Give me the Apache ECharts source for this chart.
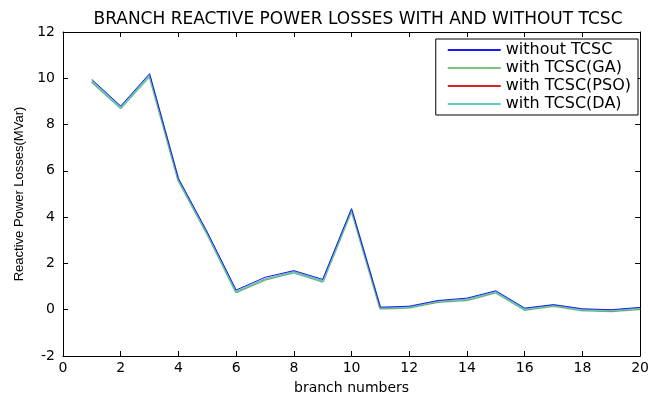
<!DOCTYPE html>
<html><head><meta charset="utf-8">
<script src="https://cdn.jsdelivr.net/npm/echarts@6/dist/echarts.min.js"></script>
<style>html,body{margin:0;padding:0;background:#fff}#c{width:652px;height:400px}</style>
</head><body><div id="c"></div>
<script>
const branches = [1,2,3,4,5,6,7,8,9,10,11,12,13,14,15,16,17,18,19,20];
const withoutTCSC = [9.95,8.8,10.2,5.67,3.35,0.85,1.4,1.69,1.31,4.37,0.11,0.15,0.4,0.5,0.82,0.07,0.22,0.04,0.0,0.1];
const withGA  = [9.85,8.72,10.1,5.6,3.28,0.76,1.3,1.62,1.22,4.3,0.05,0.1,0.34,0.42,0.75,0.0,0.17,-0.02,-0.06,0.03];
const withPSO = [9.85,8.72,10.1,5.6,3.28,0.76,1.3,1.62,1.22,4.3,0.05,0.1,0.34,0.42,0.75,0.0,0.17,-0.02,-0.06,0.03];
const withDA  = [9.87,8.73,10.11,5.61,3.29,0.77,1.31,1.63,1.23,4.31,0.06,0.11,0.35,0.43,0.76,0.01,0.18,-0.01,-0.05,0.04];
const xTicks = [0,2,4,6,8,10,12,14,16,18,20];
const yTicks = [-2,0,2,4,6,8,10,12];

const wide = 'DejaVu Sans, Verdana, sans-serif';
const narrow = 'Liberation Sans, Arial, sans-serif';
const pair = arr => branches.map((b,i)=>[b,arr[i]]);
const chart = echarts.init(document.getElementById('c'), null, {renderer:'canvas'});
const axisBase = () => ({
  axisLine:{show:true,onZero:false,lineStyle:{color:'#000',width:1}},
  axisTick:{show:true,inside:true,length:5,lineStyle:{color:'#000'}},
  splitLine:{show:false}
});
chart.setOption({
  animation:false,
  backgroundColor:'#fff',
  title:{text:'BRANCH REACTIVE POWER LOSSES WITH AND WITHOUT TCSC',left:353,textAlign:'center',top:6,
    textStyle:{fontFamily:wide,fontSize:17,fontWeight:'normal',color:'#000'}},
  grid:{left:63,right:7,top:32,bottom:37,show:false},
  legend:{
    orient:'vertical',right:14,top:39,
    backgroundColor:'#fff',borderColor:'#000',borderWidth:1,
    padding:[2,7,2,11],itemGap:0,itemWidth:53,itemHeight:14,
    itemStyle:{opacity:0},
    textStyle:{fontFamily:wide,fontSize:16,lineHeight:18,height:18,color:'#000'},
    data:['without TCSC','with TCSC(GA)','with TCSC(PSO)','with TCSC(DA)']
  },
  xAxis:[
    Object.assign(axisBase(),{type:'value',min:0,max:20,interval:2,position:'bottom',
      name:'branch numbers',nameLocation:'middle',nameGap:25,
      nameTextStyle:{fontFamily:wide,fontSize:14,color:'#000'},
      axisLabel:{fontFamily:wide,fontSize:14,color:'#000',margin:5}}),
    Object.assign(axisBase(),{type:'value',min:0,max:20,interval:2,position:'top',axisLabel:{show:false}})
  ],
  yAxis:[
    Object.assign(axisBase(),{type:'value',min:-2,max:12,interval:2,position:'left',
      name:'Reactive Power Losses(MVar)',nameLocation:'middle',nameGap:36,nameRotate:90,
      nameTextStyle:{fontFamily:narrow,fontSize:13,color:'#000'},
      axisLabel:{fontFamily:wide,fontSize:14,color:'#000',margin:8}}),
    Object.assign(axisBase(),{type:'value',min:-2,max:12,interval:2,position:'right',axisLabel:{show:false}})
  ],
  series:[
    {name:'with TCSC(GA)',type:'line',data:pair(withGA),symbol:'none',lineStyle:{color:'#7cc47c',width:2.5},itemStyle:{color:'#7cc47c'},z:2},
    {name:'with TCSC(PSO)',type:'line',data:pair(withPSO),symbol:'none',lineStyle:{color:'#e02020',width:1},itemStyle:{color:'#e02020'},z:3},
    {name:'with TCSC(DA)',type:'line',data:pair(withDA),symbol:'none',lineStyle:{color:'#5cccc4',width:1.5},itemStyle:{color:'#5cccc4'},z:4},
    {name:'without TCSC',type:'line',data:pair(withoutTCSC),symbol:'none',lineStyle:{color:'#1a1aee',width:1},itemStyle:{color:'#1a1aee'},z:5}
  ]
});
</script></body></html>
